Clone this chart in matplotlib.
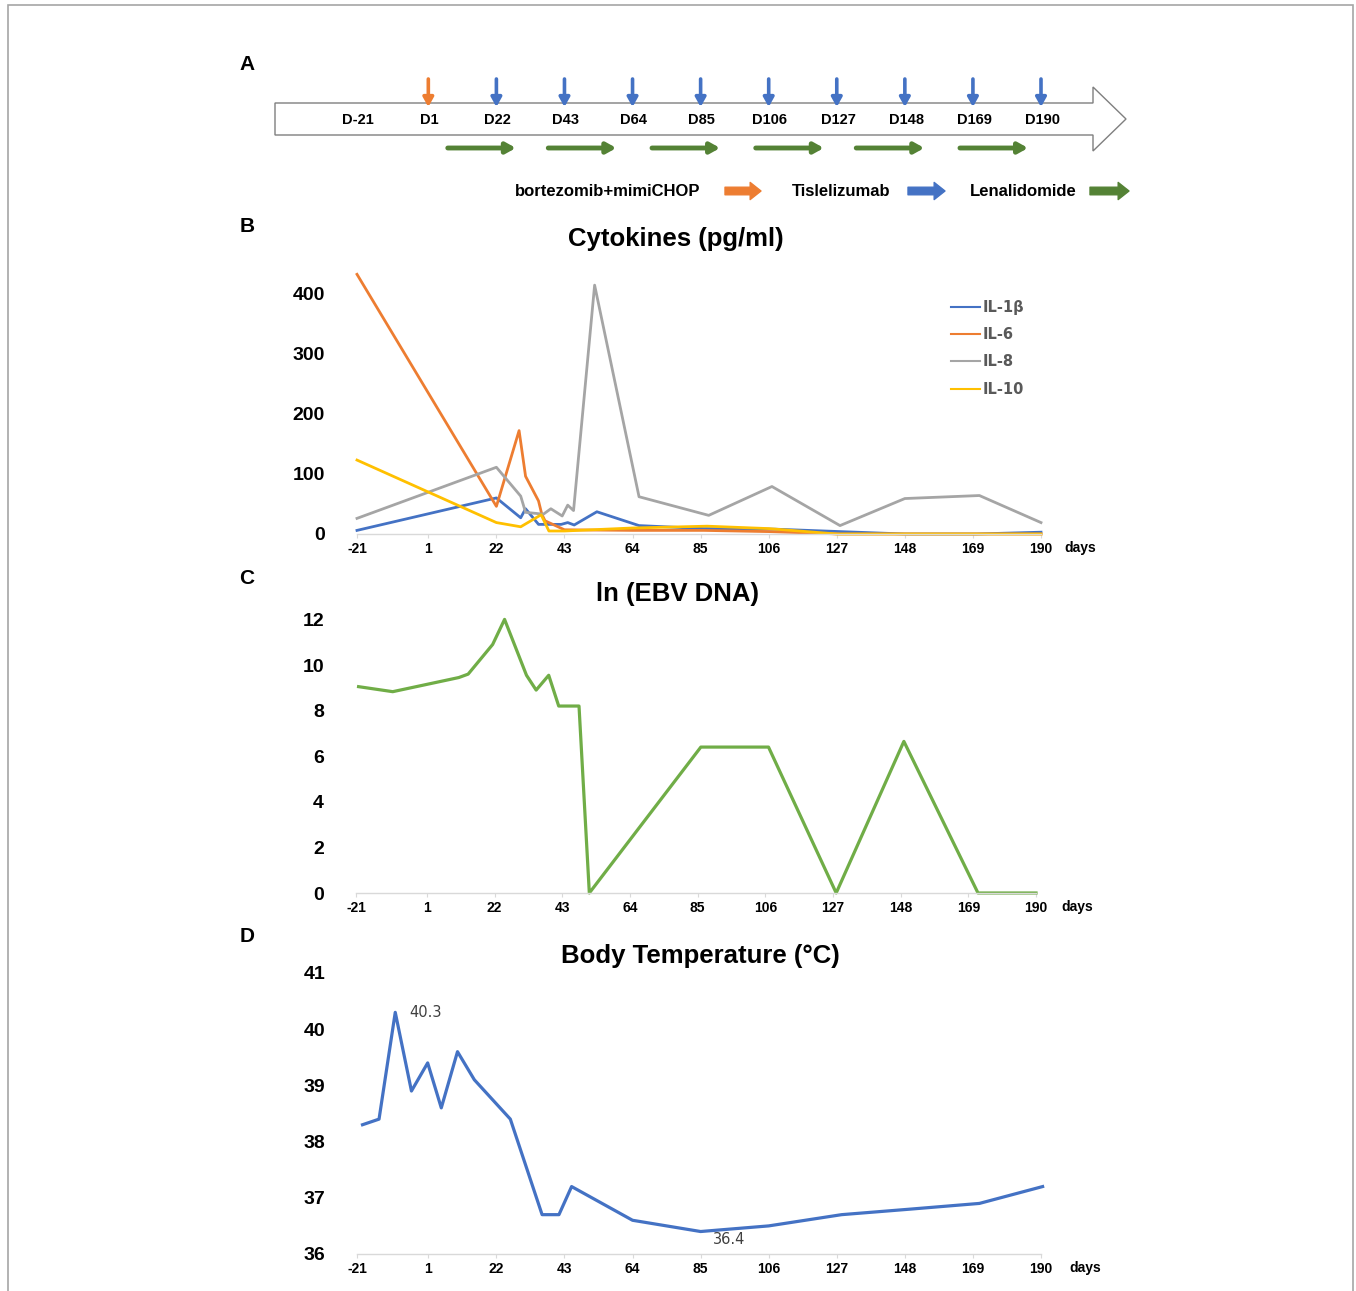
import matplotlib
matplotlib.use('Agg')
import matplotlib.pyplot as plt
from matplotlib.patches import Polygon, Rectangle
from matplotlib.transforms import blended_transform_factory, offset_copy

plt.rcParams['font.family'] = ['Liberation Sans', 'DejaVu Sans']

# ---------------- data ----------------
axis_days = [-21, 1, 22, 43, 64, 85, 106, 127, 148, 169, 190]

# Panel A: treatment schedule
chemo_days = [1]
tislelizumab_days = [22, 43, 64, 85, 106, 127, 148, 169, 190]
lenalidomide_start = [7, 38, 70, 102, 133, 165]
lenalidomide_length = 21

# Panel B: cytokines (pg/ml)
il1b_days = [-21, 22, 29.5, 31, 35, 42, 44, 46, 53, 66, 86, 108, 128, 148, 170, 190]
il1b_vals = [6, 60, 27, 42, 16, 16, 19, 15, 37, 14, 9, 8, 4, 0, 0, 3]

il6_days = [-21, 22, 29, 31, 35, 36, 37, 43, 64, 86, 106, 128, 148, 170, 190]
il6_vals = [432, 46, 172, 96, 55, 33, 22, 7, 6, 6, 4, 0, 0, 0, 0]

il8_days = [-21, 22, 29.5, 31, 36.5, 38.8, 42.3, 44, 45.8, 52.3, 66, 87.5, 107, 128, 148, 171, 190]
il8_vals = [26, 111, 63, 36, 33, 42, 30, 48, 39, 414, 62, 31, 79, 14, 59, 64, 19]

il10_days = [-21, 22, 29.5, 35.8, 38.2, 43, 64, 87, 106, 127, 148, 169, 190]
il10_vals = [123, 19, 12, 32, 5, 5, 10, 13, 9, 0, 0, 0, 0]

# Panel C: ln(EBV DNA)
ebv_days = [-20.2, -9.6, 10.9, 13.8, 21.4, 25.1, 31.9, 34.9, 38.8, 41.9, 48.2, 51.4, 86, 107, 128, 149, 172, 190]
ebv_vals = [9.05, 8.83, 9.45, 9.6, 10.9, 12.0, 9.55, 8.9, 9.55, 8.2, 8.2, 0, 6.4, 6.4, 0, 6.65, 0, 0]

# Panel D: body temperature (°C)
temp_days = [-19.3, -14.2, -9.2, -4.2, 0.8, 5.0, 10.0, 15.2, 26.3, 36.1, 41.3, 45.2, 64, 85, 106, 128.5, 150, 171, 190.5]
temp_vals = [38.3, 38.4, 40.3, 38.9, 39.4, 38.6, 39.6, 39.1, 38.4, 36.7, 36.7, 37.2, 36.6, 36.4, 36.5, 36.7, 36.8, 36.9, 37.2]

# ---------------- layout helpers ----------------
W, H = 1356, 1291
fig = plt.figure(figsize=(W / 100, H / 100), dpi=100)


def rect(l, t, r, b):
    return [l / W, 1 - b / H, (r - l) / W, (b - t) / H]


def fpos(x, y):
    return (x / W, 1 - y / H)


BLUE = '#4472C4'
ORANGE = '#ED7D31'
GRAY = '#A5A5A5'
YELLOW = '#FFC000'
GREEN = '#70AD47'
DGREEN = '#548235'

# outer frame
fig.patches.append(Rectangle((8 / W, -0.02), (1353 - 8) / W, 1.02 - 5 / H,
                             transform=fig.transFigure, fill=False,
                             edgecolor='#a6a6a6', lw=1.2))


def style(ax, ylim, yticks, days_dx=23):
    ax.set_xlim(-21, 190)
    ax.set_ylim(*ylim)
    for s in ['top', 'right', 'left']:
        ax.spines[s].set_visible(False)
    ax.spines['bottom'].set_color('#d9d9d9')
    ax.spines['bottom'].set_linewidth(1.0)
    ax.set_xticks(axis_days)
    ax.set_xticklabels([str(d) for d in axis_days], fontweight='bold', fontsize=10)
    ax.tick_params(axis='x', direction='out', length=3, color='#d9d9d9', pad=2.5)
    ax.set_yticks(yticks)
    ax.set_yticklabels([str(v) for v in yticks], fontweight='bold', fontsize=14)
    ax.tick_params(axis='y', length=0, pad=23)
    ax.patch.set_visible(False)
    ax.text(1, 0, 'days', transform=offset_copy(ax.transAxes, fig=fig, x=days_dx, y=-14, units='dots'),
            ha='left', va='center', fontweight='bold', fontsize=10)


# ---------------- Panel A ----------------
fig.text(*fpos(247, 65), 'A', ha='center', va='center', fontsize=15, fontweight='bold')
ax_a = fig.add_axes(rect(357, 40, 1041, 215))
ax_a.set_xlim(-21, 190)
ax_a.set_ylim(215, 40)
ax_a.axis('off')


def fx(px):
    return (px - 357) / 684


tr = blended_transform_factory(ax_a.transAxes, ax_a.transData)
verts = [(fx(275), 103), (fx(1093), 103), (fx(1093), 87), (fx(1126), 119),
         (fx(1093), 151), (fx(1093), 135), (fx(275), 135)]
ax_a.add_patch(Polygon(verts, closed=True, facecolor='white', edgecolor='#7f7f7f',
                       lw=1.0, transform=tr, clip_on=False))

for d in axis_days:
    ax_a.text(d + 0.4, 120, f'D{d}', ha='center', va='center', fontsize=10.5, fontweight='bold')

for days, col in [(chemo_days, ORANGE), (tislelizumab_days, BLUE)]:
    for d in days:
        ax_a.annotate('', xy=(d, 107), xytext=(d, 79),
                      arrowprops=dict(arrowstyle='-|>,head_length=0.5,head_width=0.28',
                                      color=col, lw=2.6, shrinkA=0, shrinkB=0,
                                      mutation_scale=11), annotation_clip=False)

for s in lenalidomide_start:
    ax_a.annotate('', xy=(s + lenalidomide_length, 148), xytext=(s, 148),
                  arrowprops=dict(arrowstyle='-|>,head_length=0.5,head_width=0.28',
                                  color=DGREEN, lw=3.5, shrinkA=0, shrinkB=0,
                                  mutation_scale=11), annotation_clip=False)

legend_items = [('bortezomib+mimiCHOP', 515, 725, 761, ORANGE),
                ('Tislelizumab', 792, 908, 945, BLUE),
                ('Lenalidomide', 970, 1090, 1129, DGREEN)]
for txt, tx, a0, a1, col in legend_items:
    fig.text(*fpos(tx, 191), txt, ha='left', va='center', fontsize=12, fontweight='bold')
    fig.add_artist(plt.Annotation('', xy=(a1, H - 191), xytext=(a0, H - 191),
                                  xycoords='figure pixels', textcoords='figure pixels',
                                  arrowprops=dict(arrowstyle='simple,head_length=0.6,head_width=0.95,tail_width=0.42',
                                                  color=col, mutation_scale=13,
                                                  shrinkA=0, shrinkB=0)))

# ---------------- Panel B ----------------
fig.text(*fpos(247, 227), 'B', ha='center', va='center', fontsize=15, fontweight='bold')
fig.text(*fpos(676, 239), 'Cytokines (pg/ml)', ha='center', va='center', fontsize=18.5, fontweight='bold')
ax_b = fig.add_axes(rect(357, 263.5, 1041, 534))
style(ax_b, (0, 450), [0, 100, 200, 300, 400])
lw = 2.0
ax_b.plot(il1b_days, il1b_vals, color=BLUE, lw=lw, label='IL-1β', clip_on=False)
ax_b.plot(il6_days, il6_vals, color=ORANGE, lw=lw, label='IL-6', clip_on=False)
ax_b.plot(il8_days, il8_vals, color=GRAY, lw=lw, label='IL-8', clip_on=False)
ax_b.plot(il10_days, il10_vals, color=YELLOW, lw=lw, label='IL-10', clip_on=False)
leg = ax_b.legend(loc='upper left', bbox_to_anchor=fpos(951, 300), bbox_transform=fig.transFigure,
                  frameon=False, prop=dict(family='DejaVu Sans', weight='bold', size=10.5),
                  labelcolor='#595959', handlelength=2.0, handletextpad=0.15,
                  labelspacing=0.84, borderpad=0, borderaxespad=0)
for ln in leg.get_lines():
    ln.set_linewidth(1.5)

# ---------------- Panel C ----------------
fig.text(*fpos(247, 578), 'C', ha='center', va='center', fontsize=15, fontweight='bold')
fig.text(*fpos(677, 594), 'ln (EBV DNA)', ha='center', va='center', fontsize=18.5, fontweight='bold')
ax_c = fig.add_axes(rect(356, 608, 1036, 893))
style(ax_c, (0, 12.5), [0, 2, 4, 6, 8, 10, 12], days_dx=25)
ax_c.plot(ebv_days, ebv_vals, color=GREEN, lw=2.3, clip_on=False)

# ---------------- Panel D ----------------
fig.text(*fpos(247, 937), 'D', ha='center', va='center', fontsize=15, fontweight='bold')
fig.text(*fpos(700, 956), 'Body Temperature (°C)', ha='center', va='center', fontsize=18.5, fontweight='bold')
ax_d = fig.add_axes(rect(357, 973, 1041, 1254))
style(ax_d, (36, 41), [36, 37, 38, 39, 40, 41], days_dx=28)
ax_d.plot(temp_days, temp_vals, color=BLUE, lw=2.3, clip_on=False)
i_max = temp_vals.index(max(temp_vals))
i_min = temp_vals.index(min(temp_vals))
ax_d.annotate(f'{temp_vals[i_max]}', xy=(temp_days[i_max], temp_vals[i_max]), xytext=(30, 0),
              textcoords='offset pixels', ha='center', va='center', family='DejaVu Sans',
              fontsize=10.5, color='#404040')
ax_d.annotate(f'{temp_vals[i_min]}', xy=(temp_days[i_min], temp_vals[i_min]), xytext=(29, -8),
              textcoords='offset pixels', ha='center', va='center', family='DejaVu Sans',
              fontsize=10.5, color='#404040')

fig.savefig('out.png', dpi=100)
